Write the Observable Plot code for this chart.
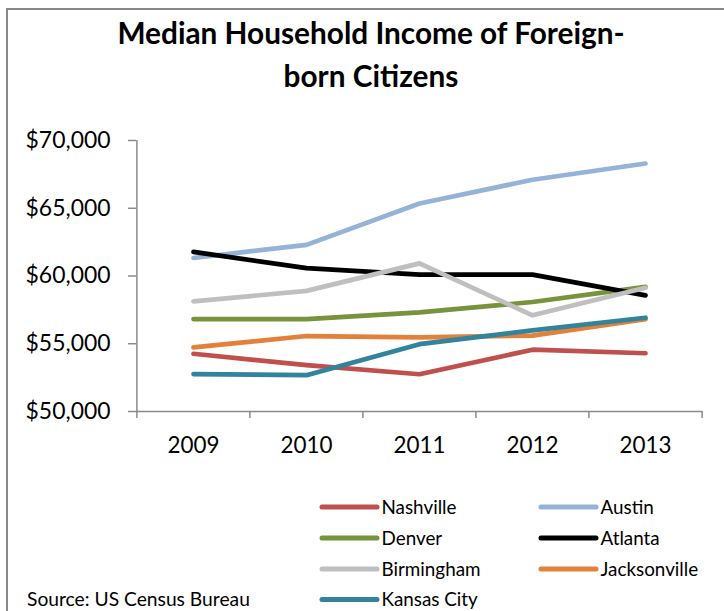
<!DOCTYPE html>
<html><head><meta charset="utf-8">
<script src="https://cdn.jsdelivr.net/npm/d3@7"></script>
<script src="https://cdn.jsdelivr.net/npm/@observablehq/plot@0.6"></script>
<style>
html,body{margin:0;padding:0;background:#fff;width:724px;height:611px;overflow:hidden;}
#wrap{position:relative;width:724px;height:611px;overflow:hidden;font-family:Lato,sans-serif;}
#border{position:absolute;left:6px;top:8px;width:800px;height:700px;border:2px solid #888;box-sizing:border-box;}
#chart{position:absolute;left:0;top:0;}
#overlay{position:absolute;left:0;top:0;pointer-events:none;}
</style>
</head><body>
<div id="wrap"><div id="border"></div><div id="chart"></div><svg id="overlay" width="724" height="611"></svg></div>
<script>
// ---- data ----
const titleLines = ["Median Household Income of Foreign-", "born Citizens"];
const sourceText = "Source: US Census Bureau";
const years = ["2009", "2010", "2011", "2012", "2013"];
const yTicks = [50000, 55000, 60000, 65000, 70000];
const cities = ["Nashville", "Austin", "Denver", "Atlanta", "Birmingham", "Jacksonville", "Kansas City"];
const colors = ["#C0504D", "#95B3D7", "#77933C", "#000000", "#BFBFBF", "#E3803A", "#31849B"];
const nashville    = [54260, 53420, 52750, 54560, 54300];
const austin       = [61330, 62300, 65350, 67100, 68300];
const denver       = [56820, 56820, 57320, 58080, 59200];
const atlanta      = [61780, 60580, 60100, 60100, 58570];
const birmingham   = [58130, 58900, 60930, 57100, 59130];
const jacksonville = [54730, 55570, 55470, 55600, 56820];
const kansasCity   = [52760, 52680, 54970, 55990, 56920];
const seriesValues = [nashville, austin, denver, atlanta, birmingham, jacksonville, kansasCity];

// ---- font fitting ----
const ctx = document.createElement("canvas").getContext("2d");
function fit(str, weight, target) {
  ctx.font = `${weight} 100px Lato`;
  return 100 * target / ctx.measureText(str).width;
}
const titleSize = fit(titleLines[0], "bold", 508);
const ySize = fit("$70,000", "normal", 85);
const xSize = fit("2009", "normal", 52);
const legSize = fit("Nashville", "normal", 75);
const srcSize = fit(sourceText, "normal", 223);

const data = cities.flatMap((c, i) => years.map((y, j) => ({city: c, year: y, value: seriesValues[i][j]})));

const W = 724, H = 470, mL = 136, mR = 22, mT = 140, mB = 59;
const half = (W - mL - mR) / years.length / 2;
const axisGray = "#8a8a8a";

const chart = Plot.plot({
  width: W, height: H, marginLeft: mL, marginRight: mR, marginTop: mT, marginBottom: mB,
  style: {background: "transparent", fontFamily: "Lato, sans-serif", color: "#000", overflow: "visible"},
  x: {type: "point", domain: years, padding: 0.5, axis: null},
  y: {domain: [50000, 70000], axis: null},
  color: {domain: cities, range: colors},
  marks: [
    Plot.ruleY([50000], {stroke: axisGray, strokeWidth: 1.5}),
    Plot.ruleX([years[0]], {stroke: axisGray, strokeWidth: 1.5, dx: -half}),
    Plot.ruleX(years, {stroke: axisGray, strokeWidth: 1.5, dx: -half, insetTop: H - mT - mB, insetBottom: -7}),
    Plot.ruleX([years[years.length - 1]], {stroke: axisGray, strokeWidth: 1.5, dx: half, insetTop: H - mT - mB, insetBottom: -7}),
    Plot.axisY({ticks: yTicks, tickSize: 8, tickPadding: 18, tickFormat: d3.format("$,"), fontSize: ySize, stroke: axisGray, strokeWidth: 1.5, fill: "#000", label: null}),
    Plot.axisX({tickSize: 0, tickPadding: 26, fontSize: xSize, fill: "#000", label: null}),
    Plot.line(data, {x: "year", y: "value", z: "city", stroke: "city", strokeWidth: 4.7, strokeLinecap: "round", strokeLinejoin: "round"})
  ]
});
document.getElementById("chart").appendChild(chart);

// ---- overlay: title, legend, source ----
const ov = d3.select("#overlay");
ov.selectAll("text.title").data(titleLines).join("text")
  .attr("class", "title")
  .attr("x", 371).attr("y", (d, i) => [44, 87][i])
  .attr("text-anchor", "middle")
  .style("font", `bold ${titleSize}px Lato, sans-serif`)
  .attr("fill", "#000")
  .text(d => d);

const colX = [322, 541], rowY = [507, 538, 569, 599.5];
const leg = ov.selectAll("g.leg").data(cities).join("g").attr("class", "leg")
  .attr("transform", (d, i) => `translate(${colX[i % 2]},${rowY[Math.floor(i / 2)]})`);
leg.append("line").attr("x1", 0).attr("x2", 55).attr("y1", 0).attr("y2", 0)
  .attr("stroke", (d, i) => colors[i]).attr("stroke-width", 5).attr("stroke-linecap", "round");
leg.append("text").attr("x", 59.5).attr("y", legSize * 0.36)
  .style("font", `${legSize}px Lato, sans-serif`).attr("fill", "#000").text(d => d);

ov.append("text").attr("x", 27).attr("y", 599.5 + srcSize * 0.36)
  .style("font", `${srcSize}px Lato, sans-serif`).attr("fill", "#000").text(sourceText);
</script>
</body></html>
